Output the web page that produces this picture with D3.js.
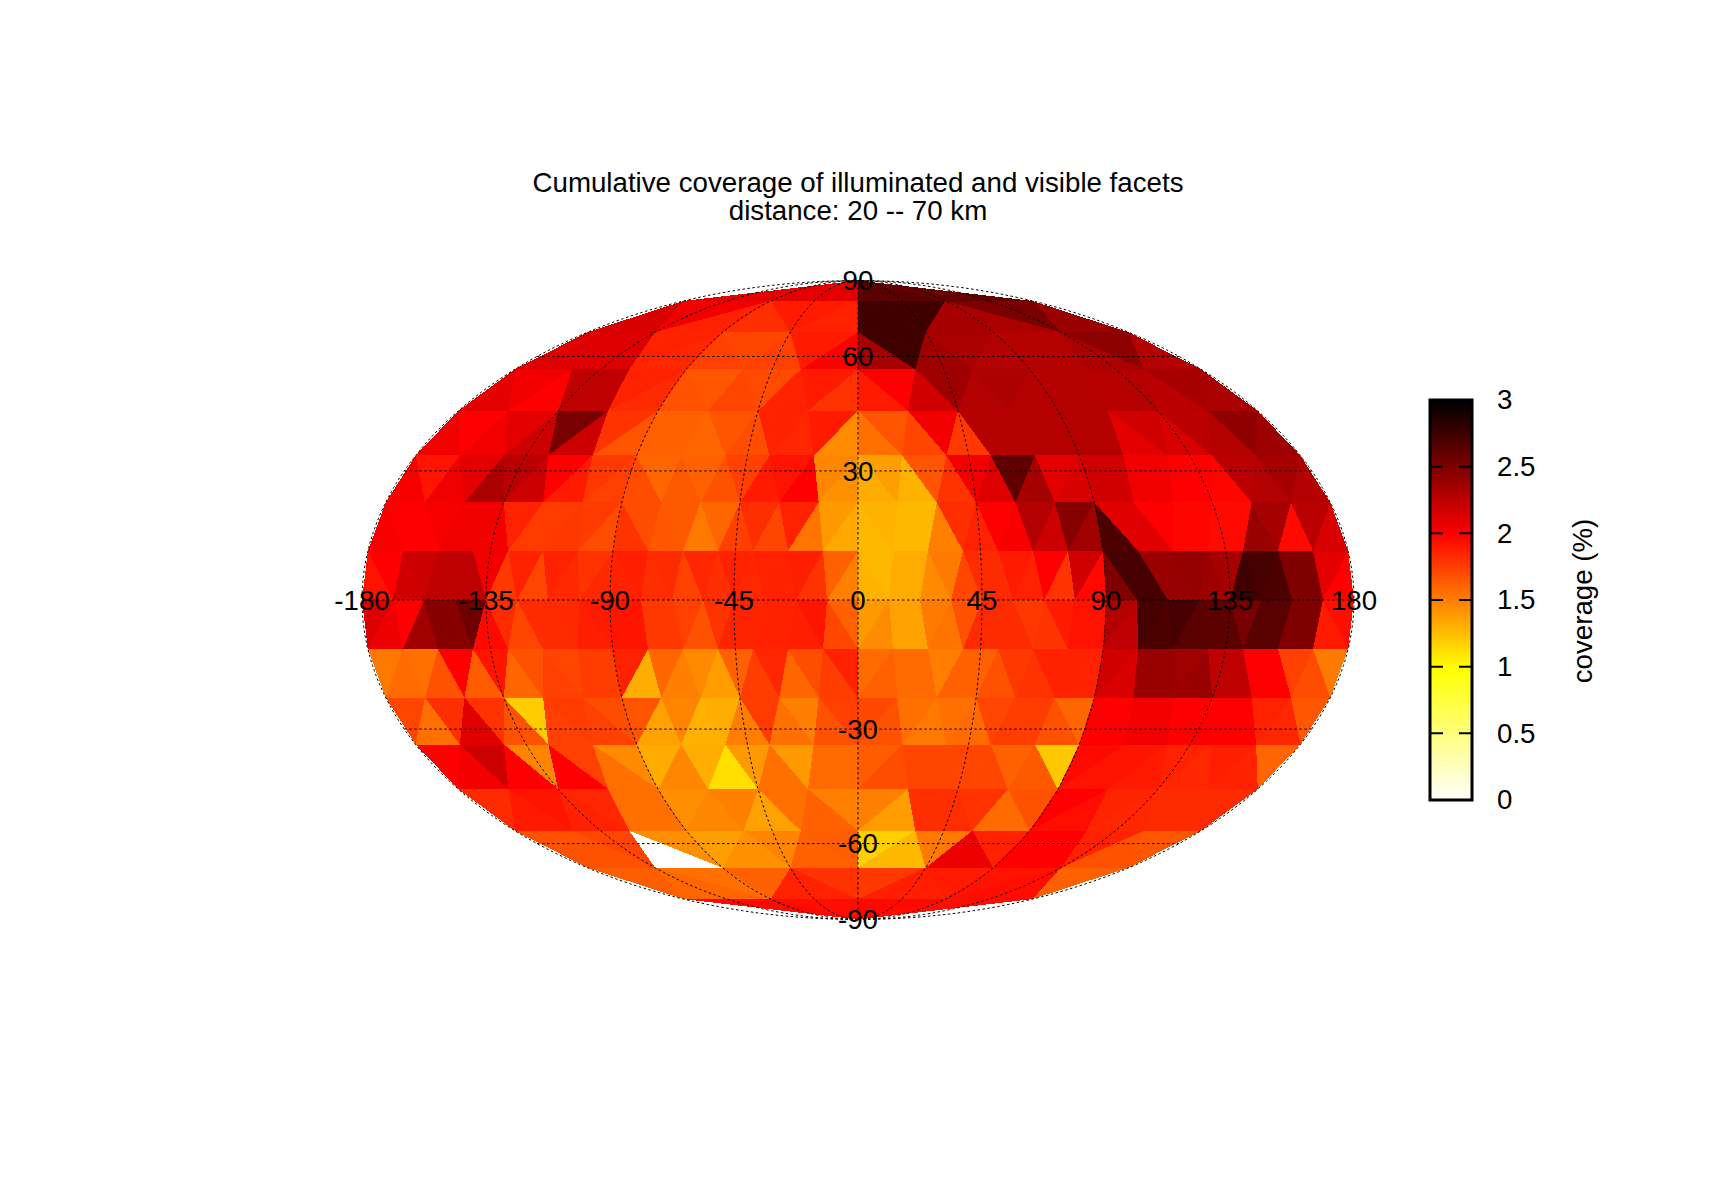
<!DOCTYPE html>
<html>
<head>
<meta charset="utf-8">
<script src="https://d3js.org/d3.v7.min.js"></script>
<style>
  html, body { margin: 0; padding: 0; background: #fff; }
  text { font-family: "Liberation Sans", Arial, sans-serif; fill: #000; }
</style>
</head>
<body>
<div id="app"></div>
<script>

// facet coverage per latitude band, pole to equator, west to east
var north0 = [2.1,2.1,2.65,2.6];
var north1 = [2.15,2.05,1.87, 1.82,1.9,1.87, 2.75,2.75,2.35, 2.33,2.52,2.4];
var north2 = [2.13,2.13,2.13,1.87,1.85, 1.75,1.73,1.75,1.9,2.0, 2.35,2.75,2.38,2.33,2.3, 2.29,2.29,2.33,2.45,2.3];
var north3 = [2.1,2.05,2.0,2.25,2.25,1.87,1.83, 1.68,1.66,1.73,1.71,1.87,1.9,1.8, 1.9,2.0,2.18,2.38,2.3,2.32,2.29, 2.29,2.29,2.28,2.29,2.27,2.35,2.33];
var north4 = [2.05,2.0,2.05,2.1,2.2,2.53,2.2,1.8,1.67, 1.62,1.62,1.6,1.67,1.7,1.87,1.85,1.9,1.45, 1.56,1.67,1.73,2.05,1.78,2.29,2.29,2.29,2.29, 2.29,2.29,2.1,2.18,2.15,2.27,2.29,2.43,2.39];
var north5 = [2.03,1.92,2.05,2.1,2.33,2.27,2.2,2.0,1.9,1.78,1.75, 1.7,1.6,1.65,1.62,1.68,1.75,1.9,1.93,2.0,1.47,1.43, 1.33,1.38,1.3,1.67,1.8,2.05,2.13,2.62,2.35,2.1,2.15, 2.18,2.18,2.05,2.05,2.0,2.0,1.98,2.27,2.3,2.35,2.3];
var north6 = [2.03,2.0,2.0,2.03,2.05,2.05,2.05,1.87,1.77,1.77,1.78,1.77,1.7, 1.8,1.7,1.66,1.65,1.53,1.6,1.75,1.82,1.73,1.87,1.55,1.4,1.34, 1.28,1.3,1.28,1.28,1.5,1.82,1.87,2.0,2.03,2.3,2.2,2.47,2.37, 2.7,2.12,2.12,2.0,1.98,1.98,1.96,1.96,2.4,2.35,1.96,2.27,2.15];
var north7 = [1.93,2.0,2.18,2.2,2.25,2.25,2.25,2.05,1.78,1.87,1.73,1.87,1.84,1.8,1.84, 1.87,1.88,1.82,1.83,1.74,1.85,1.82,1.87,1.85,1.87,1.87,1.88,1.8,1.62,1.5, 1.3,1.28,1.33,1.33,1.46,1.52,1.72,1.83,1.83,1.9,1.87,2.0,1.8,2.18,1.97, 2.5,2.72,2.72,2.4,2.41,2.42,2.38,2.35,2.75,2.72,2.7,2.5,2.5,2.1,2.0];

var south0 = [1.97,1.95,1.97,1.95];
var south1 = [1.63,1.6,1.56, 1.62,1.87,1.8, 1.78,1.88,1.9, 1.93,1.95,1.62];
var south2 = [1.68,1.68,1.73,0,1.44, 1.38,1.43,1.48,1.62,1.63, 1.19,1.28,1.53,2.07,1.87, 2.0,2.0,1.87,1.68,1.66];
var south3 = [1.83,1.9,1.92,1.87,1.85,1.56,1.56, 1.44,1.47,1.5,1.37,1.56,1.62,1.5, 1.5,1.39,1.82,1.82,1.8,1.58,1.68, 2.0,1.95,1.86,1.85,1.83,1.83,1.83];
var south4 = [2.0,2.04,2.2,2.0,1.48,2.0,1.75,1.56,1.46, 1.33,1.47,1.32,1.13,1.4,1.56,1.4,1.58,1.58, 1.64,1.7,1.73,1.73,1.73,1.73,1.62,1.65,1.22, 1.97,1.93,1.92,1.9,1.87,1.85,1.88,1.87,1.6];
var south5 = [1.73,1.56,1.82,2.12,1.8,1.68,1.2,1.75,1.77,1.75,1.7, 1.67,1.37,1.48,1.31,1.32,1.51,1.77,1.56,1.5,1.68,1.75, 1.72,1.68,1.56,1.53,1.56,1.58,1.73,1.76,1.76,1.68,1.6, 2.0,2.0,2.04,2.05,2.0,2.02,2.0,2.0,1.87,1.85,1.66];
var south6 = [1.53,1.58,1.56,1.68,2.0,1.64,1.92,1.6,1.68,1.75,1.73,1.77,1.76, 1.87,1.32,1.6,1.5,1.46,1.39,1.62,1.76,1.85,1.6,1.7,1.76,1.87, 1.58,1.62,1.58,1.58,1.51,1.62,1.62,1.68,1.78,1.8,1.87,1.87,1.87, 2.18,2.15,2.4,2.4,2.37,2.4,2.25,2.25,2.0,2.0,1.75,1.7,1.52];
var south7 = [2.13,2.07,2.0,2.37,2.47,2.47,2.57,1.97,1.83,1.73,1.83,1.83,1.84,1.88,1.9, 1.92,1.92,1.78,1.78,1.75,1.68,1.8,1.86,1.86,1.87,1.87,1.88,1.92,1.72,1.62, 1.4,1.45,1.37,1.37,1.52,1.55,1.68,1.83,1.83,1.83,1.78,1.8,1.9,1.93,1.93, 2.3,2.25,2.72,2.7,2.72,2.65,2.64,2.64,2.53,2.65,2.65,2.5,2.5,1.9,1.94];

var northBands = [north0, north1, north2, north3, north4, north5, north6, north7];
var southBands = [south0, south1, south2, south3, south4, south5, south6, south7];

var lonTicks = [-180, -135, -90, -45, 0, 45, 90, 135, 180];
var latTicks = [-90, -60, -30, 30, 60, 90];
var gridLats = [-60, -30, 0, 30, 60];
var barTicks = [0, 0.5, 1, 1.5, 2, 2.5, 3];
var titleLines = ["Cumulative coverage of illuminated and visible facets", "distance: 20 -- 70 km"];
var barLabel = "coverage (%)";

var width = 1716, height = 1200;
var fontSize = 27.7;

var svg = d3.select("#app").append("svg")
  .attr("width", width)
  .attr("height", height)
  .style("display", "block");

var x = d3.scaleLinear().domain([-1, 1]).range([362, 1354]);
var y = d3.scaleLinear().domain([-1, 1]).range([919.5, 280.5]);
var color = d3.scaleLinear().domain([0, 1, 2, 3]).range(["#ffffff", "#ffff00", "#ff0000", "#000000"]);

// mollweide, x and y both scaled to -1..1
function project(lon, lat) {
  var phi = lat * Math.PI / 180;
  var theta = phi;
  if (Math.abs(lat) === 90) {
    return [x(0), y(lat > 0 ? 1 : -1)];
  }
  for (var i = 0; i < 40; i++) {
    theta -= (2 * theta + Math.sin(2 * theta) - Math.PI * Math.sin(phi)) / (2 + 2 * Math.cos(2 * theta));
  }
  return [x(lon / 180 * Math.cos(theta)), y(Math.sin(theta))];
}

function rowPoint(row, i, octant, sign) {
  var lon = row === 0 ? -180 + 90 * octant : -180 + 90 * octant + i * 90 / row;
  return project(lon, sign * (90 - row * 11.25));
}

function bandFacets(values, band, sign) {
  var perOctant = 2 * band + 1;
  return values.map(function(v, n) {
    var octant = Math.floor(n / perOctant);
    var j = n % perOctant;
    var pts;
    if (j % 2 === 0) {
      pts = [rowPoint(band, j / 2, octant, sign),
             rowPoint(band + 1, j / 2, octant, sign),
             rowPoint(band + 1, j / 2 + 1, octant, sign)];
    } else {
      pts = [rowPoint(band + 1, (j + 1) / 2, octant, sign),
             rowPoint(band, (j - 1) / 2, octant, sign),
             rowPoint(band, (j + 1) / 2, octant, sign)];
    }
    return { value: v, points: pts };
  });
}

var facets = [];
northBands.forEach(function(values, band) { facets = facets.concat(bandFacets(values, band, 1)); });
southBands.forEach(function(values, band) { facets = facets.concat(bandFacets(values, band, -1)); });

svg.append("g").selectAll("polygon")
  .data(facets)
  .enter().append("polygon")
  .attr("points", function(d) { return d.points.join(" "); })
  .attr("fill", function(d) { return color(d.value); })
  .attr("shape-rendering", "crispEdges");

// graticule
var line = d3.line();
var grid = svg.append("g")
  .attr("fill", "none")
  .attr("stroke", "#000")
  .attr("stroke-width", 1)
  .attr("stroke-dasharray", "2.5 2.5");

lonTicks.forEach(function(lon) {
  grid.append("path").attr("d", line(d3.range(-90, 90.5, 1).map(function(lat) { return project(lon, lat); })));
});
gridLats.forEach(function(lat) {
  grid.append("path").attr("d", line([project(-180, lat), project(180, lat)]));
});

var labels = svg.append("g").attr("font-size", fontSize).attr("text-anchor", "middle");

lonTicks.forEach(function(lon) {
  var p = project(lon, 0);
  labels.append("text").attr("x", p[0]).attr("y", p[1]).attr("dy", "0.35em").text(lon);
});
latTicks.forEach(function(lat) {
  var p = project(0, lat);
  labels.append("text").attr("x", p[0]).attr("y", p[1]).attr("dy", "0.35em").text(lat);
});

svg.append("g").attr("font-size", fontSize).attr("text-anchor", "middle")
  .selectAll("text")
  .data(titleLines)
  .enter().append("text")
  .attr("x", 858)
  .attr("y", function(d, i) { return 192 + i * 28; })
  .text(function(d) { return d; });

// colour bar
var barX = 1430, barW = 42, barSteps = 200;
var barY = d3.scaleLinear().domain([0, 3]).range([800, 400]);

svg.append("g").selectAll("rect")
  .data(d3.range(barSteps))
  .enter().append("rect")
  .attr("x", barX)
  .attr("width", barW)
  .attr("y", function(d) { return barY((d + 1) * 3 / barSteps); })
  .attr("height", function() { return barY(0) - barY(3 / barSteps) + 0.5; })
  .attr("fill", function(d) { return color((d + 0.5) * 3 / barSteps); })
  .attr("shape-rendering", "crispEdges");

svg.append("rect")
  .attr("x", barX).attr("y", barY(3))
  .attr("width", barW).attr("height", barY(0) - barY(3))
  .attr("fill", "none").attr("stroke", "#000").attr("stroke-width", 3);

var innerTicks = barTicks.slice(1, -1);
svg.append("g").selectAll("path")
  .data(innerTicks)
  .enter().append("path")
  .attr("d", function(d) {
    return "M" + barX + "," + barY(d) + "h13M" + (barX + barW) + "," + barY(d) + "h-13";
  })
  .attr("stroke", "#000").attr("stroke-width", 2).attr("fill", "none");

var barAxis = d3.axisRight(barY).tickValues(barTicks).tickSize(0).tickPadding(0).tickFormat(function(d) { return d; });
var barG = svg.append("g")
  .attr("transform", "translate(1497,0)")
  .call(barAxis);
barG.select(".domain").remove();
barG.selectAll("text").attr("font-size", fontSize).attr("font-family", "Liberation Sans").attr("fill", "#000");

svg.append("text")
  .attr("transform", "translate(1592,601) rotate(-90)")
  .attr("text-anchor", "middle")
  .attr("font-size", fontSize)
  .text(barLabel);

</script>
</body>
</html>
